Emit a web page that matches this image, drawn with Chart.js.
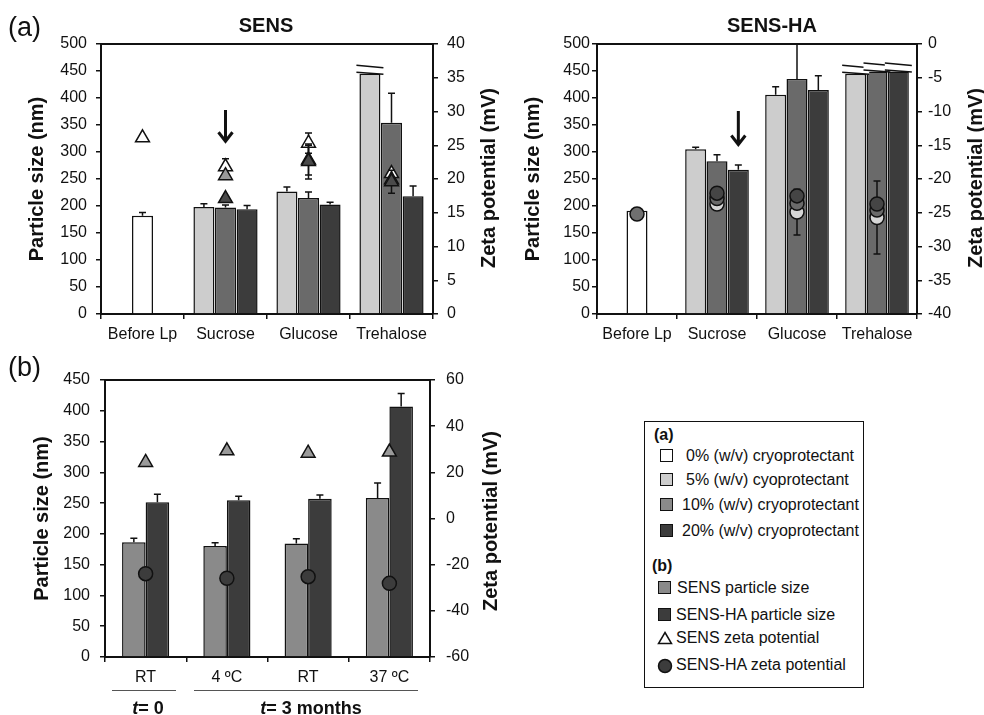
<!DOCTYPE html>
<html lang="en">
<head>
<meta charset="utf-8">
<title>SENS / SENS-HA</title>
<script src="https://cdn.jsdelivr.net/npm/chart.js@4.4.1/dist/chart.umd.min.js"></script>
<style>
    body { margin: 0; background: #fff; font-family: 'Liberation Sans', Arial, sans-serif; color: #111; }
    #page { position: relative; width: 984px; height: 715px; overflow: hidden; }
    canvas { position: absolute; }
    .txt { position: absolute; white-space: nowrap; line-height: 1; }
    .panel { font-size: 27px; }
    .title { font-size: 20px; font-weight: bold; transform: translateX(-50%); }
    .ztitle { font-size: 20px; font-weight: bold; transform: translate(-50%, -50%) rotate(-90deg); }
    .tlabel { font-size: 18px; font-weight: bold; transform: translateX(-50%); }
    .rule { position: absolute; height: 0; border-top: 1.5px solid #555; }
    #legend { position: absolute; left: 644px; top: 421px; width: 218px; height: 265px; border: 1.5px solid #111; font-size: 16px; }
    #legend .txt { font-size: 16px; }
    #legend .head { font-weight: bold; }
    .sw { position: absolute; width: 11px; height: 11px; border: 1.5px solid #111; }
</style>
</head>
<body>
<div id="page">
    <canvas id="chartSens" width="505" height="350" style="left:0;top:0"></canvas>
    <canvas id="chartSensHa" width="479" height="350" style="left:505px;top:0"></canvas>
    <canvas id="chartStorage" width="505" height="365" style="left:0;top:350px"></canvas>

    <div class="txt panel" style="left:8px;top:14px">(a)</div>
    <div class="txt panel" style="left:8px;top:354px">(b)</div>
    <div class="txt title" style="left:266px;top:15px">SENS</div>
    <div class="txt title" style="left:772px;top:15px">SENS-HA</div>

    <!-- Títulos de los ejes de potencial zeta, leídos de abajo hacia arriba -->
    <div class="txt ztitle" style="left:488px;top:178px">Zeta potential (mV)</div>
    <div class="txt ztitle" style="left:975px;top:178px">Zeta potential (mV)</div>
    <div class="txt ztitle" style="left:490px;top:521px">Zeta potential (mV)</div>

    <div class="rule" style="left:112px;top:690px;width:64px"></div>
    <div class="rule" style="left:194px;top:690px;width:224px"></div>
    <div class="txt tlabel" style="left:148px;top:699px"><i>t</i>= 0</div>
    <div class="txt tlabel" style="left:311px;top:699px"><i>t</i>= 3 months</div>

    <div id="legend">
        <div class="txt head" style="left:9px;top:5px">(a)</div>
        <span class="sw" style="left:15px;top:27px;background:#ffffff"></span>
        <div class="txt" style="left:41px;top:26px">0% (w/v) cryoprotectant</div>
        <span class="sw" style="left:15px;top:51px;background:#cdcdcd"></span>
        <div class="txt" style="left:41px;top:50px">5% (w/v) cyoprotectant</div>
        <span class="sw" style="left:15px;top:76px;background:#8a8a8a"></span>
        <div class="txt" style="left:37px;top:75px">10% (w/v) cryoprotectant</div>
        <span class="sw" style="left:15px;top:102px;background:#3c3c3c"></span>
        <div class="txt" style="left:37px;top:101px">20% (w/v) cryoprotectant</div>
        <div class="txt head" style="left:7px;top:136px">(b)</div>
        <span class="sw" style="left:13px;top:159px;background:#8a8a8a"></span>
        <div class="txt" style="left:32px;top:158px">SENS particle size</div>
        <span class="sw" style="left:13px;top:186px;background:#3c3c3c"></span>
        <div class="txt" style="left:31px;top:185px">SENS-HA particle size</div>
        <svg style="position:absolute;left:12px;top:209px" width="16" height="14">
            <polygon points="8,1.5 14.5,12.5 1.5,12.5" fill="#fff" stroke="#111" stroke-width="1.5"/>
        </svg>
        <div class="txt" style="left:31px;top:208px">SENS zeta potential</div>
        <svg style="position:absolute;left:12px;top:236px" width="16" height="16">
            <circle cx="8" cy="8" r="6.5" fill="#3c3c3c" stroke="#111" stroke-width="1.5"/>
        </svg>
        <div class="txt" style="left:31px;top:235px">SENS-HA zeta potential</div>
    </div>
</div>

<script>
// Categorías del panel (a).
const CATEGORIES = ['Before Lp', 'Sucrose', 'Glucose', 'Trehalose'];

// SENS: tamaño de partícula (nm) y desviación por concentración de crioprotector.
const SENS_SIZE_0 = [182, null, null, null];
const SENS_SIZE_0_ERR = [6, 0, 0, 0];
const SENS_SIZE_5 = [null, 198, 227, 445];
const SENS_SIZE_5_ERR = [0, 6, 8, 0];
const SENS_SIZE_10 = [null, 197, 215, 354];
const SENS_SIZE_10_ERR = [0, 5, 11, 55];
const SENS_SIZE_20 = [null, 194, 203, 218];
const SENS_SIZE_20_ERR = [0, 7, 4, 19];
const SENS_BROKEN_5 = [false, false, false, true];

// SENS: potencial zeta (mV).
const SENS_ZETA_0 = [26.1, null, null, null];
const SENS_ZETA_5 = [null, 21.8, 25.3, 20.8];
const SENS_ZETA_5_ERR = [0, 1.2, 1.5, 0];
const SENS_ZETA_10 = [null, 20.5, 22.8, 19.9];
const SENS_ZETA_10_ERR = [0, 0, 2.2, 0];
const SENS_ZETA_20 = [null, 17.1, 22.6, 19.6];
const SENS_ZETA_20_ERR = [0, 0, 2.6, 1.7];

// SENS-HA: tamaño de partícula (nm).
const HA_SIZE_0 = [191, null, null, null];
const HA_SIZE_5 = [null, 305, 406, 445];
const HA_SIZE_5_ERR = [0, 4, 15, 0];
const HA_SIZE_10 = [null, 283, 435, 449];
const HA_SIZE_10_ERR = [0, 12, 120, 0];
const HA_SIZE_20 = [null, 267, 415, 449];
const HA_SIZE_20_ERR = [0, 9, 26, 0];
const HA_BROKEN = [false, false, false, true];

// SENS-HA: potencial zeta (mV).
const HA_ZETA_0 = [-25.2, null, null, null];
const HA_ZETA_5 = [null, -23.7, -24.9, -25.7];
const HA_ZETA_5_ERR = [0, 0, 3.4, 5.4];
const HA_ZETA_10 = [null, -22.9, -23.6, -24.6];
const HA_ZETA_20 = [null, -22.1, -22.5, -23.7];

// Panel (b): estabilidad durante el almacenamiento.
const CONDITIONS = ['RT', '4 ºC', 'RT', '37 ºC'];
const STORE_SENS_SIZE = [186.5, 180.5, 184.5, 258.5];
const STORE_SENS_SIZE_ERR = [6.5, 5, 7.5, 24];
const STORE_HA_SIZE = [251.5, 254.5, 257, 407];
const STORE_HA_SIZE_ERR = [13, 6.5, 6, 21];
const STORE_SENS_ZETA = [24.3, 29.3, 28.3, 28.8];
const STORE_HA_ZETA = [-23.9, -25.9, -25.2, -28.1];

// Flechas de la sacarosa: categoría, serie de barras y valores de inicio y fin.
const ARROW_SENS = { category: 1, dataset: 2, from: 378, to: 318 };
const ARROW_HA = { category: 1, dataset: 3, from: 376, to: 312 };

const INK = '#111';
Chart.defaults.font.family = "'Liberation Sans', Arial, sans-serif";
Chart.defaults.font.size = 16;
Chart.defaults.color = INK;

/*
*   Dibuja las barras de error de una serie a partir de sus valores.
*   Las barras sólo llevan el brazo superior; los puntos llevan ambos.
*/
const drawErrors = (chart, meta, ds) => {
    if (!ds.errors) return;
    const { ctx, chartArea } = chart;
    const scale = chart.scales[meta.yAxisID];
    const isPoint = ds.type === 'line';
    ctx.save();
    ctx.beginPath();
    ctx.rect(chartArea.left, chartArea.top, chartArea.right - chartArea.left, chartArea.bottom - chartArea.top);
    ctx.clip();
    ctx.strokeStyle = INK;
    ctx.lineWidth = 1.5;
    meta.data.forEach((el, i) => {
        const v = ds.data[i];
        const e = ds.errors[i];
        if (v == null || !e) return;
        const x = el.x;
        const top = scale.getPixelForValue(v + e);
        const bottom = isPoint ? scale.getPixelForValue(v - e) : scale.getPixelForValue(v);
        ctx.beginPath();
        ctx.moveTo(x, top);
        ctx.lineTo(x, bottom);
        ctx.moveTo(x - 3.5, top);
        ctx.lineTo(x + 3.5, top);
        if (isPoint) {
            ctx.moveTo(x - 3.5, bottom);
            ctx.lineTo(x + 3.5, bottom);
        }
        ctx.stroke();
    });
    ctx.restore();
};

const errorBars = {
    id: 'errorBars',
    beforeDatasetDraw: (chart, args) => {
        const ds = chart.data.datasets[args.index];
        if (ds.type === 'line') drawErrors(chart, args.meta, ds);
    },
    afterDatasetDraw: (chart, args) => {
        const ds = chart.data.datasets[args.index];
        if (ds.type !== 'line') drawErrors(chart, args.meta, ds);
    }
};

// Marca de eje cortado sobre las barras que salen de escala.
const breakMarks = {
    id: 'breakMarks',
    afterDatasetsDraw: (chart) => {
        const { ctx } = chart;
        chart.data.datasets.forEach((ds, i) => {
            if (!ds.broken) return;
            chart.getDatasetMeta(i).data.forEach((el, j) => {
                if (!ds.broken[j] || ds.data[j] == null) return;
                const x0 = el.x - el.width / 2 - 3;
                const x1 = el.x + el.width / 2 + 3;
                const y = el.y;
                ctx.save();
                ctx.fillStyle = '#fff';
                ctx.beginPath();
                ctx.moveTo(x0, y - 1.5);
                ctx.lineTo(x1, y + 0.5);
                ctx.lineTo(x1, y - 6);
                ctx.lineTo(x0, y - 8.5);
                ctx.closePath();
                ctx.fill();
                ctx.strokeStyle = INK;
                ctx.lineWidth = 1.5;
                ctx.beginPath();
                ctx.moveTo(x0, y - 1.5);
                ctx.lineTo(x1, y + 0.5);
                ctx.moveTo(x0, y - 8.5);
                ctx.lineTo(x1, y - 6);
                ctx.stroke();
                ctx.restore();
            });
        });
    }
};

// Flecha vertical que señala una barra.
const arrowMark = {
    id: 'arrowMark',
    afterDatasetsDraw: (chart, args, opts) => {
        if (opts.dataset == null) return;
        const el = chart.getDatasetMeta(opts.dataset).data[opts.category];
        const scale = chart.scales.y;
        const x = el.x;
        const yA = scale.getPixelForValue(opts.from);
        const yB = scale.getPixelForValue(opts.to);
        const { ctx } = chart;
        ctx.save();
        ctx.strokeStyle = INK;
        ctx.lineWidth = 3;
        ctx.beginPath();
        ctx.moveTo(x, yA);
        ctx.lineTo(x, yB - 1);
        ctx.moveTo(x - 7, yB - 10);
        ctx.lineTo(x, yB - 1);
        ctx.lineTo(x + 7, yB - 10);
        ctx.stroke();
        ctx.restore();
    }
};

// Línea superior del marco del gráfico.
const topFrame = {
    id: 'topFrame',
    afterDraw: (chart) => {
        const { ctx, chartArea } = chart;
        ctx.save();
        ctx.strokeStyle = INK;
        ctx.lineWidth = 2;
        ctx.beginPath();
        ctx.moveTo(chartArea.left - 1, chartArea.top);
        ctx.lineTo(chartArea.right + 1, chartArea.top);
        ctx.stroke();
        ctx.restore();
    }
};

const barSet = (label, data, errors, color, broken) => ({
    type: 'bar',
    label: label,
    data: data,
    errors: errors,
    broken: broken,
    backgroundColor: color,
    borderColor: INK,
    borderWidth: 1.5,
    yAxisID: 'y',
    order: 10
});

const pointSet = (label, data, errors, color, style, order) => ({
    type: 'line',
    label: label,
    data: data,
    errors: errors,
    showLine: false,
    pointStyle: style,
    pointRadius: style === 'triangle' ? 8 : 7,
    pointBackgroundColor: color,
    pointBorderColor: INK,
    pointBorderWidth: 1.5,
    yAxisID: 'y2',
    order: order
});

/*
*   Construye los ejes de un gráfico.
*   Los anchos fijos colocan el área de trazado en la posición deseada.
*/
const buildScales = (cfg) => ({
    x: {
        offset: true,
        grid: { offset: true, drawOnChartArea: false, tickLength: 5, color: INK, lineWidth: 1.5 },
        border: { color: INK, width: 2 },
        ticks: { color: INK, padding: cfg.xPad, maxRotation: 0, autoSkip: false },
        afterFit: (s) => { s.height = cfg.xHeight; }
    },
    y: {
        position: 'left',
        min: 0,
        max: cfg.yMax,
        ticks: { stepSize: cfg.yStep, color: INK, padding: cfg.yPad },
        grid: { drawOnChartArea: false, tickLength: 5, color: INK, lineWidth: 1.5 },
        border: { color: INK, width: 2 },
        title: { display: true, text: 'Particle size (nm)', color: INK, font: { size: 20, weight: 'bold' }, padding: { top: cfg.yTitle, bottom: 0 } },
        afterFit: (s) => { s.width = cfg.yWidth; }
    },
    y2: {
        position: 'right',
        min: cfg.zMin,
        max: cfg.zMax,
        ticks: { stepSize: cfg.zStep, color: INK, padding: cfg.zPad },
        grid: { drawOnChartArea: false, tickLength: 5, color: INK, lineWidth: 1.5 },
        border: { color: INK, width: 2 },
        afterFit: (s) => { s.width = cfg.zWidth; }
    }
});

const baseOptions = (cfg, arrow) => ({
    responsive: false,
    animation: false,
    devicePixelRatio: 1,
    skipNull: true,
    layout: { padding: { top: cfg.top, left: 0, right: 0, bottom: 0 } },
    plugins: {
        legend: { display: false },
        tooltip: { enabled: false },
        arrowMark: arrow || {}
    },
    scales: buildScales(cfg)
});

// Panel (a): SENS.
new Chart(document.getElementById('chartSens'), {
    type: 'bar',
    data: {
        labels: CATEGORIES,
        datasets: [
            barSet('0%', SENS_SIZE_0, SENS_SIZE_0_ERR, '#ffffff'),
            barSet('5%', SENS_SIZE_5, SENS_SIZE_5_ERR, '#cdcdcd', SENS_BROKEN_5),
            barSet('10%', SENS_SIZE_10, SENS_SIZE_10_ERR, '#6a6a6a'),
            barSet('20%', SENS_SIZE_20, SENS_SIZE_20_ERR, '#3c3c3c'),
            pointSet('0% zeta', SENS_ZETA_0, null, '#ffffff', 'triangle', 4),
            pointSet('5% zeta', SENS_ZETA_5, SENS_ZETA_5_ERR, '#ffffff', 'triangle', 3),
            pointSet('10% zeta', SENS_ZETA_10, SENS_ZETA_10_ERR, '#9a9a9a', 'triangle', 2),
            pointSet('20% zeta', SENS_ZETA_20, SENS_ZETA_20_ERR, '#4a4a4a', 'triangle', 1)
        ]
    },
    options: Object.assign(baseOptions({
        top: 44, xHeight: 36, xPad: 6,
        yMax: 500, yStep: 50, yPad: 9, yWidth: 101, yTitle: 25,
        zMin: 0, zMax: 40, zStep: 5, zPad: 9, zWidth: 72
    }, ARROW_SENS), { categoryPercentage: 0.78, barPercentage: 1, maxBarThickness: 21 }),
    plugins: [errorBars, breakMarks, arrowMark, topFrame]
});

// Panel (a): SENS-HA.
new Chart(document.getElementById('chartSensHa'), {
    type: 'bar',
    data: {
        labels: CATEGORIES,
        datasets: [
            barSet('0%', HA_SIZE_0, null, '#ffffff'),
            barSet('5%', HA_SIZE_5, HA_SIZE_5_ERR, '#cdcdcd', HA_BROKEN),
            barSet('10%', HA_SIZE_10, HA_SIZE_10_ERR, '#6a6a6a', HA_BROKEN),
            barSet('20%', HA_SIZE_20, HA_SIZE_20_ERR, '#3c3c3c', HA_BROKEN),
            pointSet('0% zeta', HA_ZETA_0, null, '#707070', 'circle', 4),
            pointSet('5% zeta', HA_ZETA_5, HA_ZETA_5_ERR, '#d6d6d6', 'circle', 3),
            pointSet('10% zeta', HA_ZETA_10, null, '#6a6a6a', 'circle', 2),
            pointSet('20% zeta', HA_ZETA_20, null, '#454545', 'circle', 1)
        ]
    },
    options: Object.assign(baseOptions({
        top: 44, xHeight: 36, xPad: 6,
        yMax: 500, yStep: 50, yPad: 2, yWidth: 92, yTitle: 16,
        zMin: -40, zMax: 0, zStep: 5, zPad: 6, zWidth: 67
    }, ARROW_HA), { categoryPercentage: 0.8, barPercentage: 1, maxBarThickness: 21 }),
    plugins: [errorBars, breakMarks, arrowMark, topFrame]
});

// Panel (b): estabilidad de SENS y SENS-HA.
new Chart(document.getElementById('chartStorage'), {
    type: 'bar',
    data: {
        labels: CONDITIONS,
        datasets: [
            barSet('SENS particle size', STORE_SENS_SIZE, STORE_SENS_SIZE_ERR, '#8a8a8a'),
            barSet('SENS-HA particle size', STORE_HA_SIZE, STORE_HA_SIZE_ERR, '#3c3c3c'),
            pointSet('SENS zeta potential', STORE_SENS_ZETA, null, '#9a9a9a', 'triangle', 2),
            pointSet('SENS-HA zeta potential', STORE_HA_ZETA, null, '#3c3c3c', 'circle', 1)
        ]
    },
    options: Object.assign(baseOptions({
        top: 30, xHeight: 58, xPad: 6,
        yMax: 450, yStep: 50, yPad: 10, yWidth: 105, yTitle: 30,
        zMin: -60, zMax: 60, zStep: 20, zPad: 11, zWidth: 75
    }), { categoryPercentage: 0.58, barPercentage: 1 }),
    plugins: [errorBars, topFrame]
});
</script>
</body>
</html>
